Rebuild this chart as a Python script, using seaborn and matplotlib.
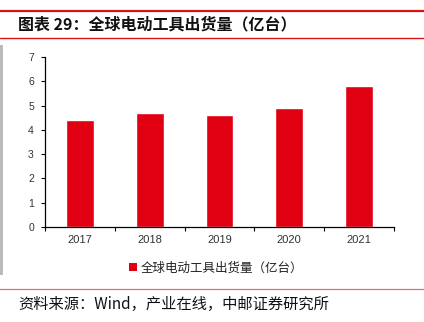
import matplotlib
matplotlib.use("Agg")
import matplotlib.pyplot as plt
import seaborn as sns
import numpy as np
from matplotlib.lines import Line2D
from matplotlib.patches import Patch, Rectangle

years = ["2017", "2018", "2019", "2020", "2021"]
shipments = [4.4, 4.7, 4.6, 4.9, 5.8]
title = "图表 29：全球电动工具出货量（亿台）"
series_name = "全球电动工具出货量（亿台）"
source = "资料来源：Wind，产业在线，中邮证券研究所"

sns.set_theme(style="white")
plt.rcParams['font.family'] = ['Noto Sans CJK SC', 'DejaVu Sans']

RED = "#E00012"
fig = plt.figure(figsize=(4.24, 3.22), dpi=100)
ax = fig.add_axes([45/424, 1-227/322, (394-45)/424, (227-57)/322])

sns.barplot(x=years, y=shipments, color=RED, width=0.4, saturation=1, ax=ax)

ax.set_ylim(0, 7)
ax.set_xlim(-0.5, 4.5)
ax.set_yticks(range(0, 8))
ax.tick_params(axis='y', labelsize=7.5, colors='#333333', length=3, width=0.8, direction='out', pad=5, left=True)
ax.set_xticks(np.arange(-0.5, 5, 1), minor=True)
ax.tick_params(axis='x', which='major', length=0, labelsize=8, colors='#333333', pad=6)
ax.tick_params(axis='x', which='minor', length=3, width=0.8, direction='out', bottom=True)
ax.tick_params(axis='both', which='both', color='black')
for lbl in ax.get_xticklabels() + ax.get_yticklabels():
    lbl.set_fontfamily(['Liberation Sans', 'DejaVu Sans'])
for s in ['top', 'right']:
    ax.spines[s].set_visible(False)
for s in ['left', 'bottom']:
    ax.spines[s].set_color('black')
    ax.spines[s].set_linewidth(0.9)
ax.set_xlabel("")
ax.set_ylabel("")

handle = Patch(facecolor=RED, edgecolor='none')
fig.legend([handle], [series_name], loc='center', bbox_to_anchor=(216/424, 1-268/322),
           frameon=False, fontsize=9, handlelength=0.6, handleheight=0.6, handletextpad=0.3,
           labelcolor='#222222')

# decorative lines
fig.add_artist(Line2D([0, 1], [1-11/322, 1-11/322], color="#D7141A", lw=1.6))
fig.add_artist(Line2D([0, 1], [1-38/322, 1-38/322], color="#D7141A", lw=1.0))
fig.add_artist(Line2D([0, 1], [1-289/322, 1-289/322], color="#E07070", lw=0.9))

fig.text(18/424, 1-24/322, title, fontsize=11.5, fontweight='bold', va='center', ha='left', color='#111111')
fig.text(18/424, 1-304/322, source, fontsize=11, va='center', ha='left', color='#111111')

# scanned gray strip at left edge
fig.add_artist(Rectangle((0, 1-275/322), 3/424, (275-45)/322, transform=fig.transFigure,
                         facecolor='#BBBBBB', edgecolor='none'))

fig.savefig("out.png", dpi=100)
